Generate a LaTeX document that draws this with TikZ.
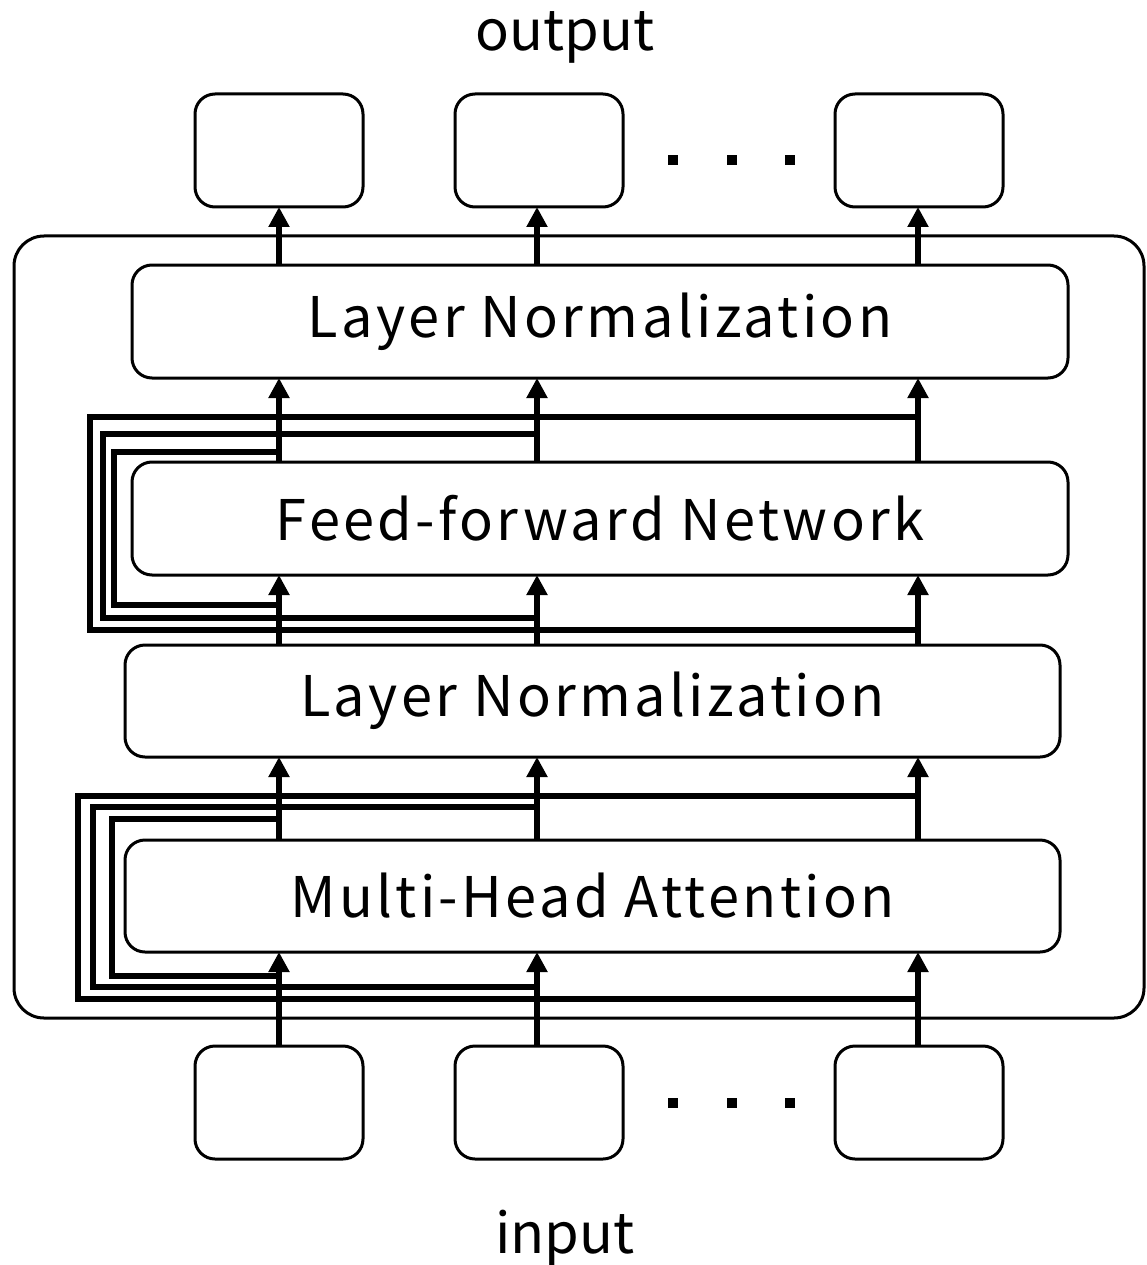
\documentclass[tikz,border=0pt]{standalone}
\usepackage{fontspec}
\setmainfont{Noto Sans CJK JP}
\newfontfamily\spacedfont[LetterSpace=6]{Noto Sans CJK JP}
\usetikzlibrary{arrows.meta}
\begin{document}
\begin{tikzpicture}[x=1pt,y=-1pt,
  box/.style={draw,line width=3pt,rounded corners=20pt,minimum width=168pt,minimum height=113pt,inner sep=0pt},
  wide/.style={draw,line width=3pt,rounded corners=20pt,minimum height=113pt,inner sep=0pt,font=\spacedfont\fontsize{56}{60}\selectfont},
  arr/.style={line width=6pt,-{Triangle[width=20pt,length=20pt]}},
  res/.style={line width=6pt,line join=miter},
  lbl/.style={font=\fontsize{56}{60}\selectfont,inner sep=0pt}]
\useasboundingbox (0,0) rectangle (1146,1265);
% container
\draw[line width=3pt,rounded corners=30pt] (14,236) rectangle (1144,1018);
% output / input boxes
\node[box] (out1) at (279,150.5) {};
\node[box] (out2) at (539,150.5) {};
\node[box] (out3) at (919,150.5) {};
\node[box] (in1) at (279,1102.5) {};
\node[box] (in2) at (539,1102.5) {};
\node[box] (in3) at (919,1102.5) {};
\foreach \x in {673,732,790}{
  \fill (\x-5,160-5) rectangle (\x+5,160+5);
  \fill (\x-5,1103-5) rectangle (\x+5,1103+5);
}
\node[lbl] (outlbl) at (565,37) {output};
\node[lbl] (inlbl) at (565,1238) {input};
% blocks
\node[wide,minimum width=936pt] (ln1) at (600,321.5) {Layer Normalization};
\node[wide,minimum width=936pt] (ffn) at (600,518.5) {Feed-forward Network};
\node[wide,minimum width=935pt,minimum height=112pt] (ln2) at (592.5,701) {Layer Normalization};
\node[wide,minimum width=935pt,minimum height=112pt] (mha) at (592.5,896) {Multi-Head Attention};
% residual loops FFN
\draw[res] (918,630) -| (90,417) -- (918,417);
\draw[res] (537,618) -| (103,434) -- (537,434);
\draw[res] (279,605) -| (114,452) -- (279,452);
% residual loops MHA
\draw[res] (918,999) -| (78,796) -- (918,796);
\draw[res] (537,987) -| (93,807) -- (537,807);
\draw[res] (279,976) -| (112,819) -- (279,819);
% arrows
\foreach \c/\x in {1/279,2/537,3/918}{
  \draw[arr] (\x,1047) -- (\x,952);
  \draw[arr] (\x,840) -- (\x,757);
  \draw[arr] (\x,645) -- (\x,575);
  \draw[arr] (\x,462) -- (\x,378);
  \draw[arr] (\x,265) -- (\x,207);
}
\end{tikzpicture}
\end{document}
